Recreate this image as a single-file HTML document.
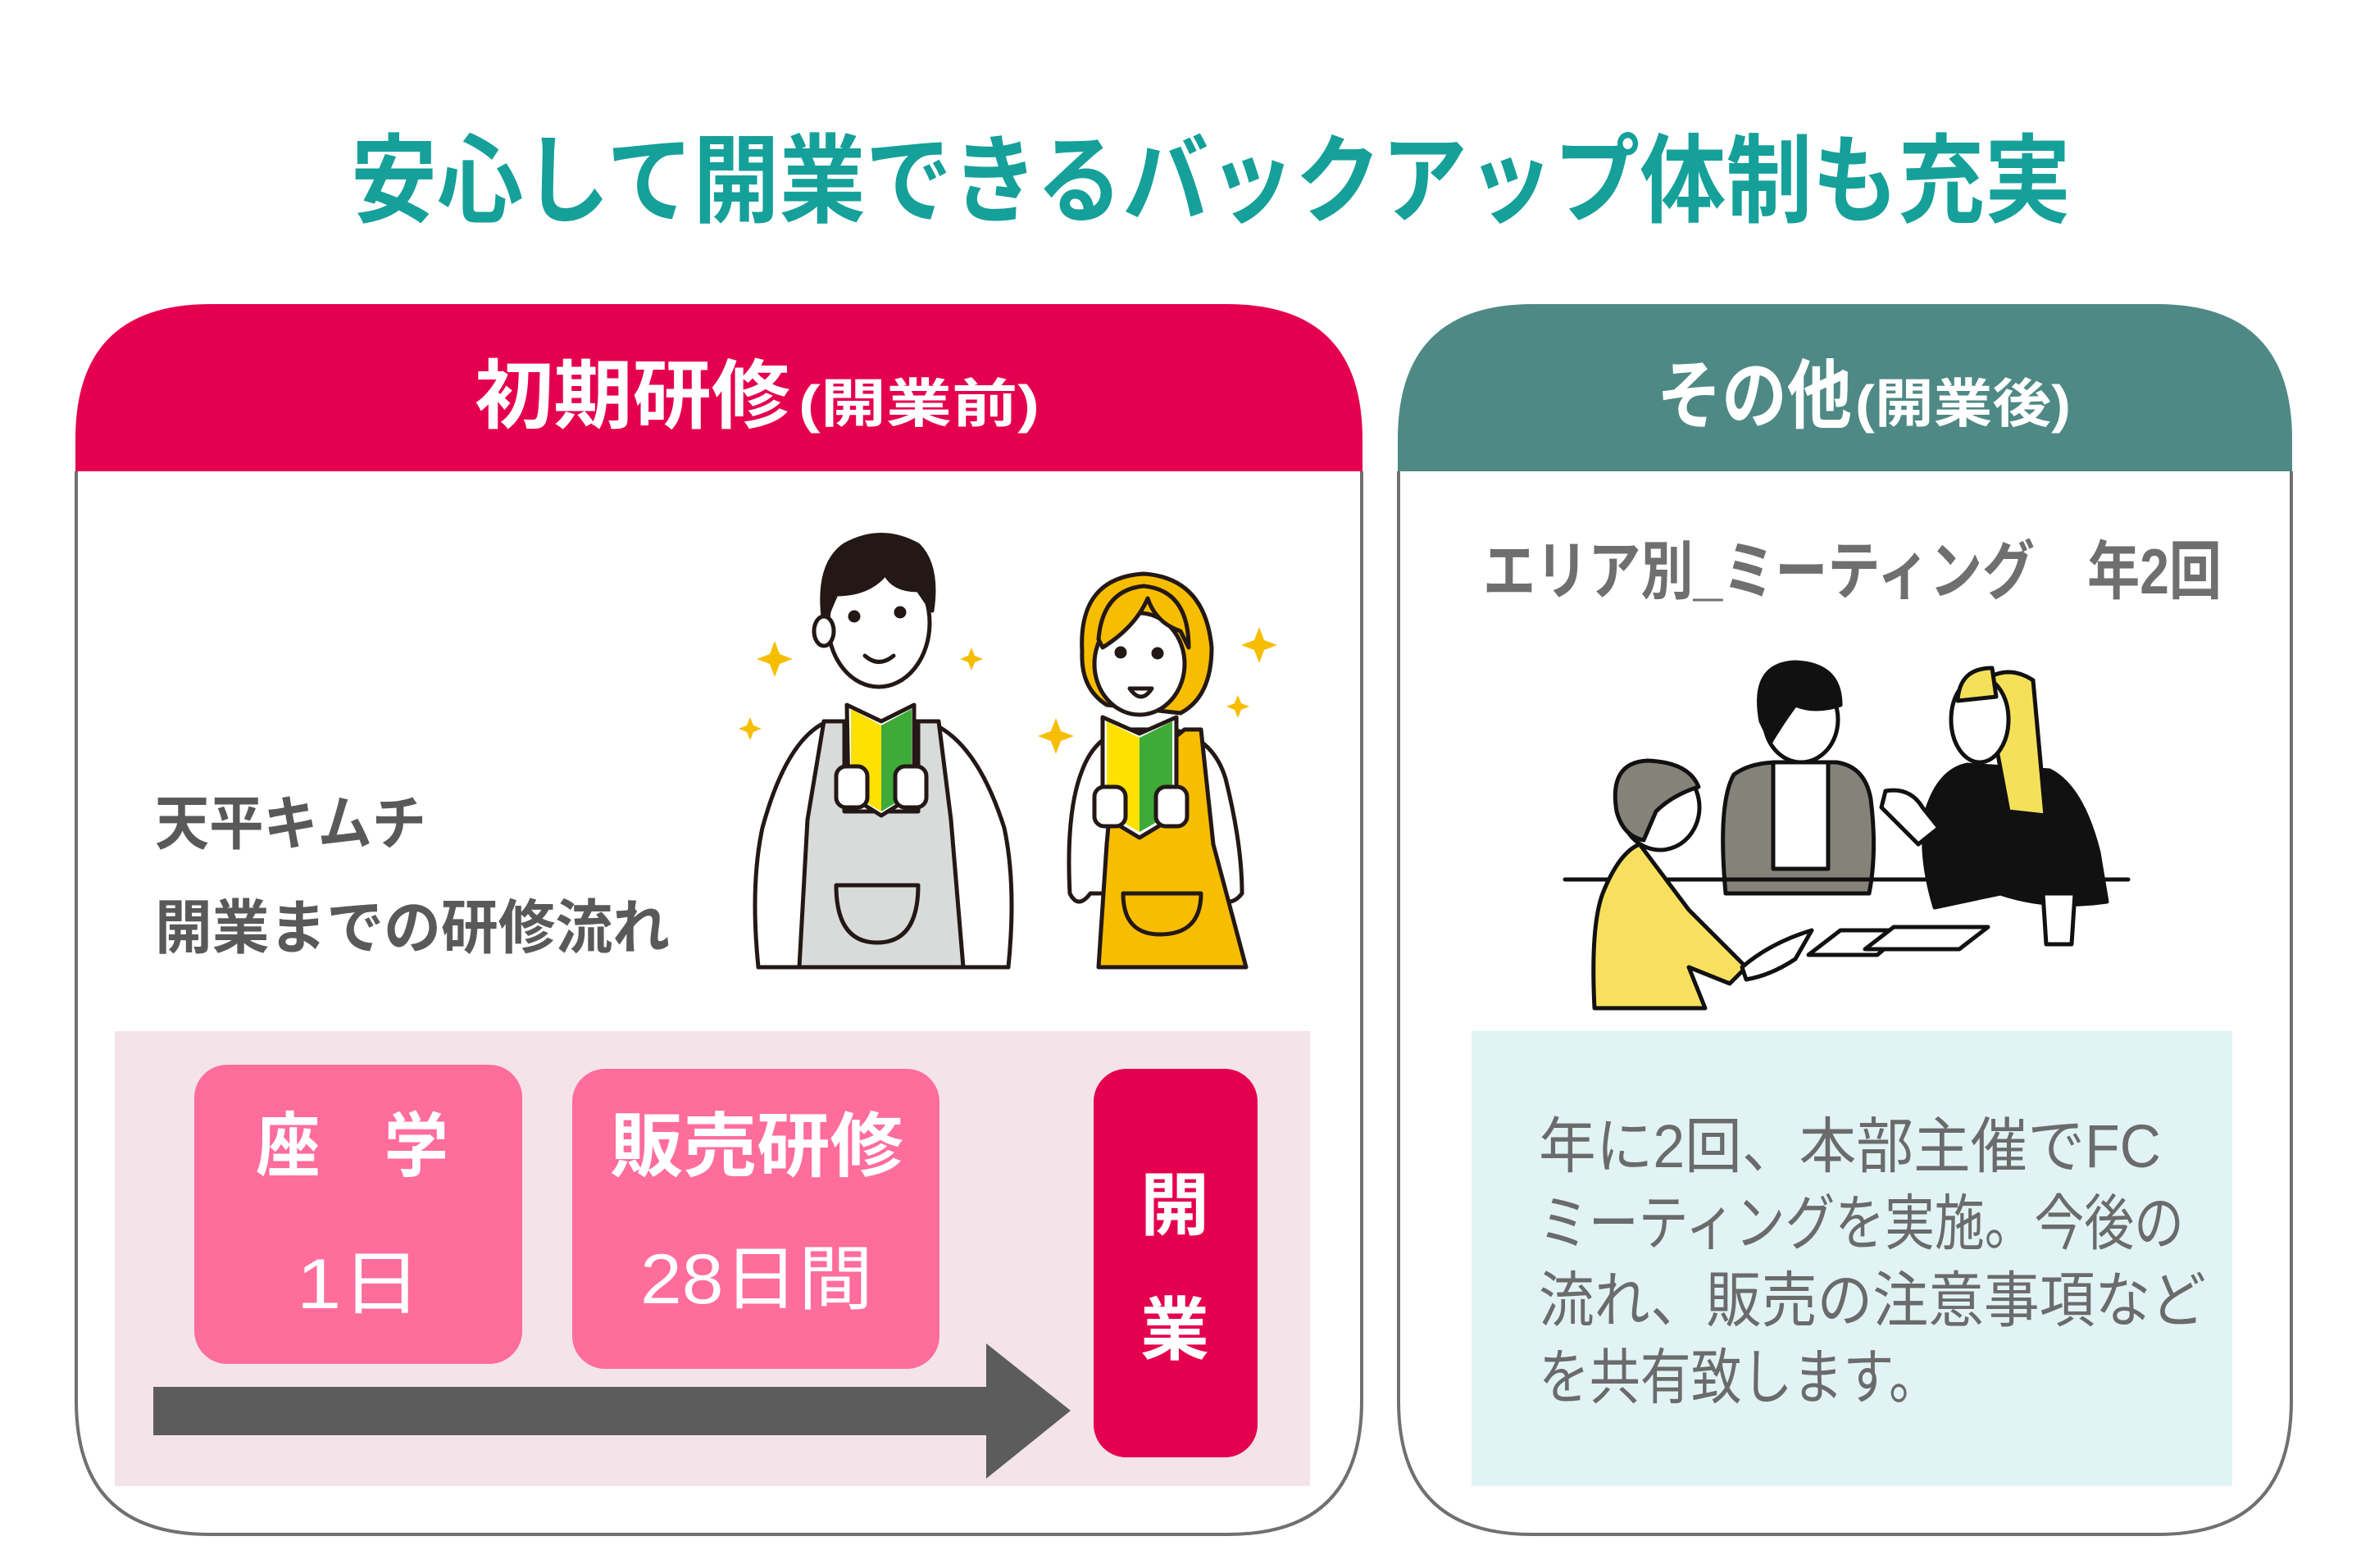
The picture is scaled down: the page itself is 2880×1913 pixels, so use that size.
<!DOCTYPE html>
<html><head><meta charset="utf-8"><style>
html,body{margin:0;padding:0;background:#fff;}
svg{display:block;}
text{font-family:"Liberation Sans","Noto Sans CJK JP",sans-serif;}
</style></head><body>
<svg width="2880" height="1913" viewBox="0 0 2880 1913" xmlns="http://www.w3.org/2000/svg">
<rect width="2880" height="1913" fill="#fff"/>
<!-- Title -->
<text x="428" y="262" font-size="118" font-weight="bold" fill="#16a09a" textLength="2098" lengthAdjust="spacingAndGlyphs">安心して開業できるバックアップ体制も充実</text>

<!-- Left panel -->
<path d="M92,575 V536 Q92,371 257,371 H1497 Q1662,371 1662,536 V575 Z" fill="#e5004f"/>
<path d="M93,575 V1709 Q93,1872 256,1872 H1498 Q1661,1872 1661,1709 V575" fill="#fff" stroke="#707070" stroke-width="4"/>
<text x="579" y="515" font-size="92" font-weight="bold" fill="#fff" textLength="385" lengthAdjust="spacingAndGlyphs">初期研修</text>
<text x="974" y="515" font-size="64" font-weight="bold" fill="#fff" textLength="294" lengthAdjust="spacingAndGlyphs">(開業前)</text>

<!-- Right panel -->
<path d="M1705,575 V536 Q1705,371 1870,371 H2631 Q2796,371 2796,536 V575 Z" fill="#4e8985"/>
<path d="M1706,575 V1709 Q1706,1872 1869,1872 H2632 Q2795,1872 2795,1709 V575" fill="#fff" stroke="#707070" stroke-width="4"/>
<text x="2021" y="515" font-size="92" font-weight="bold" fill="#fff" textLength="238" lengthAdjust="spacingAndGlyphs">その他</text>
<text x="2263" y="515" font-size="64" font-weight="bold" fill="#fff" textLength="263" lengthAdjust="spacingAndGlyphs">(開業後)</text>

<!-- Left texts -->
<text x="189" y="1030" font-size="72" font-weight="bold" fill="#595959" textLength="331" lengthAdjust="spacingAndGlyphs">天平キムチ</text>
<text x="189" y="1157" font-size="72" font-weight="bold" fill="#595959" textLength="628" lengthAdjust="spacingAndGlyphs">開業までの研修流れ</text>

<!-- Pink area -->
<rect x="140" y="1258" width="1458" height="555" fill="#f4e4ea"/>
<rect x="237" y="1299" width="400" height="365" rx="40" fill="#ff6d9c"/>
<rect x="698" y="1304" width="448" height="366" rx="40" fill="#ff6d9c"/>
<rect x="1334" y="1304" width="200" height="474" rx="40" fill="#e5004f"/>
<polygon points="187,1692 1203,1692 1203,1639 1306,1721 1203,1804 1203,1751 187,1751" fill="#5c5c5c"/>
<text x="312" y="1428" font-size="86" font-weight="bold" fill="#fff" textLength="235" lengthAdjust="spacingAndGlyphs">座　学</text>
<text x="362" y="1596" font-size="86" fill="#fff" textLength="152" lengthAdjust="spacingAndGlyphs">1日</text>
<text x="744" y="1428" font-size="86" font-weight="bold" fill="#fff" textLength="358" lengthAdjust="spacingAndGlyphs">販売研修</text>
<text x="781" y="1590" font-size="86" fill="#fff" textLength="284" lengthAdjust="spacingAndGlyphs">28日間</text>
<text x="1433" y="1500" font-size="84" font-weight="bold" fill="#fff" text-anchor="middle">開</text>
<text x="1433" y="1652" font-size="84" font-weight="bold" fill="#fff" text-anchor="middle">業</text>

<!-- Right texts -->
<text x="1809" y="724" font-size="78" font-weight="bold" fill="#6f6f6f" textLength="901" lengthAdjust="spacingAndGlyphs">エリア別_ミーティング　年2回</text>
<rect x="1795" y="1258" width="928" height="555" fill="#e1f3f5"/>
<g font-size="74" fill="#6b6b6b">
<text x="1877" y="1424" textLength="759" lengthAdjust="spacingAndGlyphs">年に2回、本部主催でFC</text>
<text x="1877" y="1518" textLength="787" lengthAdjust="spacingAndGlyphs">ミーティングを実施。今後の</text>
<text x="1877" y="1612" textLength="814" lengthAdjust="spacingAndGlyphs">流れ、販売の注意事項など</text>
<text x="1877" y="1706" textLength="489" lengthAdjust="spacingAndGlyphs">を共有致します。</text>
</g>

<!-- Left illustration -->
<g stroke="#231815" stroke-width="5" stroke-linejoin="round" stroke-linecap="round">
  <!-- man -->
  <path d="M925,1180 Q915,1080 930,1010 Q960,900 1010,880 L1130,880 Q1190,900 1225,1010 Q1240,1080 1230,1180 Z" fill="#fff"/>
  <path d="M975,1180 L985,1000 L1005,880 L1030,880 L1030,990 L1120,990 L1120,880 L1145,880 L1160,1000 L1175,1180 Z" fill="#d9dbdb"/>
  <path d="M1020,1080 Q1020,1150 1070,1150 Q1120,1150 1120,1080 Z" fill="#d9dbdb"/>
  <ellipse cx="1072" cy="760" rx="62" ry="78" fill="#fff"/>
  <path d="M1005,760 Q995,690 1030,665 Q1075,640 1120,665 Q1145,690 1137,745 L1120,720 Q1090,720 1080,700 Q1060,725 1020,725 Z" fill="#231815"/>
  <ellipse cx="1005" cy="770" rx="12" ry="18" fill="#fff"/>
  <path d="M1055,800 Q1072,815 1090,800" fill="none"/>
  <circle cx="1042" cy="752" r="5" fill="#231815"/><circle cx="1098" cy="747" r="5" fill="#231815"/>
  <path d="M1033,860 L1075,880 L1115,860 L1115,970 L1075,995 L1035,970 Z" fill="#fff"/>
  <path d="M1038,865 L1075,885 L1075,990 L1038,968 Z" fill="#fde100" stroke="none"/>
  <path d="M1075,885 L1112,865 L1112,968 L1075,990 Z" fill="#3eab38" stroke="none"/>
  <rect x="1020" y="935" width="38" height="50" rx="12" fill="#fff"/>
  <rect x="1092" y="935" width="38" height="50" rx="12" fill="#fff"/>
  <!-- woman -->
  <path d="M1305,1090 Q1300,990 1320,940 Q1335,900 1370,890 L1430,890 Q1480,900 1495,950 Q1515,1030 1515,1090 Q1500,1110 1480,1090 L1330,1090 Q1315,1110 1305,1090 Z" fill="#fff"/>
  <path d="M1340,1180 L1350,1030 L1360,920 L1420,910 L1445,890 L1465,890 L1480,1030 L1520,1180 Z" fill="#f7bd00"/>
  <path d="M1370,1090 Q1370,1140 1415,1140 Q1465,1140 1465,1090 Z" fill="#f7bd00"/>
  <path d="M1320,795 Q1315,705 1395,700 Q1470,705 1478,790 Q1478,850 1440,870 L1350,860 Q1318,840 1320,795 Z" fill="#f7bd00"/>
  <ellipse cx="1390" cy="810" rx="55" ry="62" fill="#fff"/>
  <path d="M1340,780 Q1345,720 1395,715 Q1450,720 1450,790 L1440,770 Q1410,760 1400,730 Q1385,765 1345,790 Z" fill="#f7bd00"/>
  <path d="M1378,840 Q1392,860 1405,840 Z" fill="#fff"/>
  <circle cx="1367" cy="796" r="5" fill="#231815"/><circle cx="1412" cy="797" r="5" fill="#231815"/>
  <path d="M1345,875 L1390,895 L1435,875 L1435,995 L1390,1022 L1345,995 Z" fill="#fff"/>
  <path d="M1350,880 L1390,900 L1390,1015 L1350,992 Z" fill="#fde100" stroke="none"/>
  <path d="M1390,900 L1430,880 L1430,992 L1390,1015 Z" fill="#3eab38" stroke="none"/>
  <rect x="1335" y="960" width="38" height="48" rx="12" fill="#fff"/>
  <rect x="1410" y="960" width="38" height="48" rx="12" fill="#fff"/>
</g>
<g fill="#f7bd00">
  <path d="M945,782 l6,16 16,6 -16,6 -6,16 -6,-16 -16,-6 16,-6 z"/>
  <path d="M1185,790 l4,10 10,4 -10,4 -4,10 -4,-10 -10,-4 10,-4 z"/>
  <path d="M915,875 l4,10 10,4 -10,4 -4,10 -4,-10 -10,-4 10,-4 z"/>
  <path d="M1288,876 l6,16 16,6 -16,6 -6,16 -6,-16 -16,-6 16,-6 z"/>
  <path d="M1536,765 l6,16 16,6 -16,6 -6,16 -6,-16 -16,-6 16,-6 z"/>
  <path d="M1510,848 l4,10 10,4 -10,4 -4,10 -4,-10 -10,-4 10,-4 z"/>
</g>

<!-- Right illustration -->
<g stroke="#111" stroke-width="5" stroke-linejoin="round" stroke-linecap="round">
  <path d="M2105,1090 Q2095,980 2115,945 Q2135,930 2170,930 L2240,930 Q2275,935 2282,975 Q2290,1040 2280,1090 Z" fill="#858379"/>
  <path d="M2163,930 L2163,1060 L2230,1060 L2230,930 Z" fill="#fff"/>
  <ellipse cx="2197" cy="878" rx="45" ry="52" fill="#fff"/>
  <path d="M2148,880 Q2135,810 2190,808 Q2245,810 2245,860 Q2215,870 2190,860 Q2175,880 2160,905 Z" fill="#111"/>
  <path d="M2360,1107 Q2340,1040 2350,990 Q2365,940 2400,933 L2500,940 Q2540,960 2560,1040 L2570,1100 Q2500,1110 2440,1090 Z" fill="#111"/>
  <path d="M2420,830 Q2450,810 2480,830 L2495,995 L2450,990 Z" fill="#f5e05a"/>
  <ellipse cx="2415" cy="878" rx="35" ry="52" fill="#fff"/>
  <path d="M2388,855 Q2390,815 2430,815 L2435,850 Z" fill="#f5e05a"/>
  <line x1="1909" y1="1073" x2="2596" y2="1073"/>
  <path d="M2300,965 Q2330,960 2345,985 L2365,1010 L2340,1030 Q2310,1000 2295,985 Z" fill="#fff"/>
  <path d="M1945,1230 Q1940,1130 1955,1090 Q1975,1040 2000,1030 L2060,1110 L2130,1180 L2110,1200 L2060,1180 L2080,1230 Z" fill="#f8e05e"/>
  <ellipse cx="2025" cy="985" rx="48" ry="52" fill="#fff"/>
  <path d="M1972,990 Q1962,930 2010,928 Q2060,930 2072,960 Q2040,970 2020,990 L2005,1025 Q1980,1020 1972,990 Z" fill="#858379"/>
  <path d="M2125,1180 Q2160,1150 2210,1135 L2190,1170 Q2160,1190 2130,1195 Z" fill="#fff"/>
  <polygon points="2206,1165 2245,1135 2325,1135 2290,1165" fill="#fff"/>
  <polygon points="2275,1158 2310,1131 2425,1131 2390,1158" fill="#fff"/>
  <path d="M2492,1090 L2531,1090 L2527,1152 L2496,1152 Z" fill="#fff"/>
</g>
</svg>
</body></html>
